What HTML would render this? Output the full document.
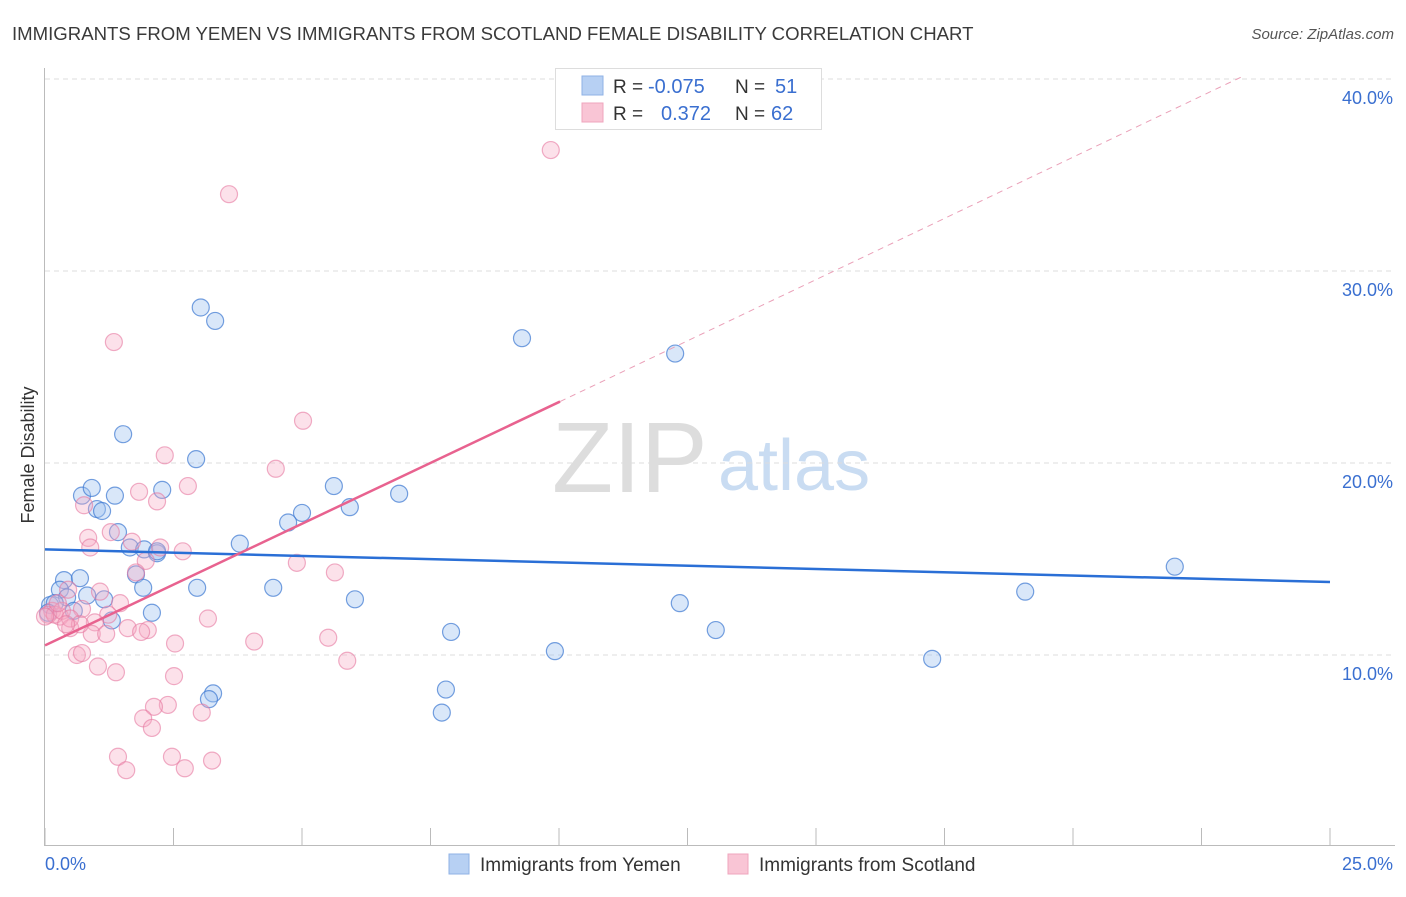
<!DOCTYPE html>
<html><head><meta charset="utf-8"><style>
body{margin:0;background:#fff;font-family:"Liberation Sans",sans-serif}
svg text{font-family:"Liberation Sans",sans-serif}
</style></head><body>
<svg id="chart" width="1406" height="892" xmlns="http://www.w3.org/2000/svg">
<text x="12" y="40" font-size="18.6" fill="#3a3a3a">IMMIGRANTS FROM YEMEN VS IMMIGRANTS FROM SCOTLAND FEMALE DISABILITY CORRELATION CHART</text>
<text x="1394" y="39" font-size="15" fill="#555" font-style="italic" text-anchor="end">Source: ZipAtlas.com</text>
<g>
<text x="552" y="492" font-size="100" fill="#ddd" font-family="Liberation Serif">ZIP</text>
<text x="718" y="490" font-size="72" fill="#c9dcf2">atlas</text>
</g>
<g id="grid"></g>
<g id="axes"></g>
<g id="marks"></g>
<g id="lines"></g>
<text x="34" y="455" font-size="18" fill="#333" text-anchor="middle" transform="rotate(-90 34 455)">Female Disability</text>
<text x="45" y="870" font-size="18" fill="#3a6fd0">0.0%</text>
<text x="1393" y="870" font-size="18" fill="#3a6fd0" text-anchor="end">25.0%</text>
<g>
<rect x="555.5" y="68.5" width="266" height="61" fill="#fff" stroke="#ddd"/>
<rect x="582" y="76" width="21" height="19" fill="#b7d0f3" stroke="#8fb2e6"/>
<rect x="582" y="103" width="21" height="19" fill="#f9c5d5" stroke="#efa5bd"/>
<text x="613" y="93" font-size="19" fill="#333">R =</text>
<text x="648" y="93" font-size="20" fill="#3a6fd0">-0.075</text>
<text x="735" y="93" font-size="19" fill="#333">N =</text>
<text x="775" y="93" font-size="20" fill="#3a6fd0">51</text>
<text x="613" y="120" font-size="19" fill="#333">R =</text>
<text x="661" y="120" font-size="20" fill="#3a6fd0">0.372</text>
<text x="735" y="120" font-size="19" fill="#333">N =</text>
<text x="771" y="120" font-size="20" fill="#3a6fd0">62</text>
</g>
<g>
<rect x="449" y="854" width="20" height="20" fill="#b7d0f3" stroke="#8fb2e6"/>
<text x="480" y="871" font-size="19" fill="#333">Immigrants from Yemen</text>
<rect x="728" y="854" width="20" height="20" fill="#f9c5d5" stroke="#efa5bd"/>
<text x="759" y="871" font-size="19" fill="#333">Immigrants from Scotland</text>
</g>
</svg>
<script>
const yTicks=[10,20,30,40];
const yTickLabels=["10.0%","20.0%","30.0%","40.0%"];
const xTicks=[0,2.5,5,7.5,10,12.5,15,17.5,20,22.5,25];
const yemenX=[3.03,3.31,9.28,12.26,1.52,2.94,0.72,0.91,1.36,2.28,5.62,6.89,1.01,1.11,5.93,5.00,4.73,1.42,3.79,1.65,1.93,2.18,0.37,0.68,0.29,1.77,1.91,2.96,4.44,21.98,19.07,0.43,0.82,1.15,6.03,2.08,0.56,1.30,12.35,7.90,13.05,9.92,17.26,3.27,3.19,7.80,7.72,0.10,0.19,2.18,0.06];
const yemenY=[28.1,27.4,26.5,25.7,21.5,20.2,18.3,18.7,18.3,18.6,18.8,18.4,17.6,17.5,17.7,17.4,16.9,16.4,15.8,15.6,15.5,15.3,13.9,14.0,13.4,14.2,13.5,13.5,13.5,14.6,13.3,13.0,13.1,12.9,12.9,12.2,12.3,11.8,12.7,11.2,11.3,10.2,9.8,8.0,7.7,8.2,7.0,12.6,12.7,15.4,12.2];
const scotX=[9.84,3.58,1.34,5.02,2.33,4.49,2.78,1.83,2.18,0.76,1.28,0.84,1.69,2.24,0.88,2.68,1.96,1.77,5.64,4.90,1.07,0.45,1.46,0.72,0.14,0.29,1.23,0.97,0.49,1.61,2.00,1.87,3.17,0.91,1.19,2.53,5.51,4.07,0.62,0.72,1.03,1.38,5.88,2.51,2.39,2.12,1.91,2.08,3.05,1.42,1.58,2.47,2.72,3.25,0.06,0.19,0.33,0.0,0.49,0.68,0.25,0.41];
const scotY=[36.3,34.0,26.3,22.2,20.4,19.7,18.8,18.5,18.0,17.8,16.4,16.1,15.9,15.6,15.6,15.4,14.9,14.3,14.3,14.8,13.3,13.4,12.7,12.4,12.3,12.0,12.1,11.7,11.4,11.4,11.3,11.2,11.9,11.1,11.1,10.6,10.9,10.7,10.0,10.1,9.4,9.1,9.7,8.9,7.4,7.3,6.7,6.2,7.0,4.7,4.0,4.7,4.1,4.5,12.1,12.1,12.3,12.0,11.9,11.6,12.7,11.6];
const yemenTrend=[15.5,13.8];
const scotTrend=[10.5,23.2,40.2];
const scotTrendX=[0,10.02,23.35];

const NS="http://www.w3.org/2000/svg";
const sx=v=>45+v*51.4;
const sy=v=>847-v*19.2;
function mk(tag,attrs,parent){const e=document.createElementNS(NS,tag);for(const k in attrs)e.setAttribute(k,attrs[k]);document.getElementById(parent).appendChild(e);return e;}

yTicks.forEach((t,i)=>{
  const g=mk('line',{x1:45,x2:1395,y1:sy(t),y2:sy(t),stroke:'#ddd','stroke-dasharray':'5,4'},'grid');
  
  
  const l=mk('text',{x:1393,y:sy(t)+25,'font-size':18,fill:'#3a6fd0','text-anchor':'end'},'grid');
  l.textContent=yTickLabels[i];
  
  
});
const ax=mk('line',{x1:44.5,x2:44.5,y1:68,y2:845,stroke:'#bbb'},'axes');


const bx=mk('line',{x1:44,x2:1395,y1:845.5,y2:845.5,stroke:'#bbb'},'axes');


xTicks.forEach(t=>{
  const tk=mk('line',{x1:sx(t),x2:sx(t),y1:828,y2:845,stroke:'#bbb'},'axes');
  
  
});
yemenX.forEach((v,i)=>{
  const c=mk('circle',{cx:sx(v),cy:sy(yemenY[i]),r:8.5,fill:'rgba(160,196,240,0.4)',stroke:'rgba(60,120,210,0.7)','stroke-width':1.2},'marks');
  
  
});
scotX.forEach((v,i)=>{
  const c=mk('circle',{cx:sx(v),cy:sy(scotY[i]),r:8.5,fill:'rgba(245,170,195,0.35)',stroke:'rgba(230,120,160,0.6)','stroke-width':1.2},'marks');
  
  
});
const bl=mk('line',{x1:sx(0),y1:sy(yemenTrend[0]),x2:sx(25),y2:sy(yemenTrend[1]),stroke:'#2a6fd6','stroke-width':2.5},'lines');


const pl=mk('line',{x1:sx(scotTrendX[0]),y1:sy(scotTrend[0]),x2:sx(scotTrendX[1]),y2:sy(scotTrend[1]),stroke:'#e8628f','stroke-width':2.5},'lines');


const pd=mk('line',{x1:sx(scotTrendX[1]),y1:sy(scotTrend[1]),x2:sx(scotTrendX[2]),y2:sy(scotTrend[2]),stroke:'#eaa0b8','stroke-width':1,'stroke-dasharray':'6,5'},'lines');


</script>
</body></html>
